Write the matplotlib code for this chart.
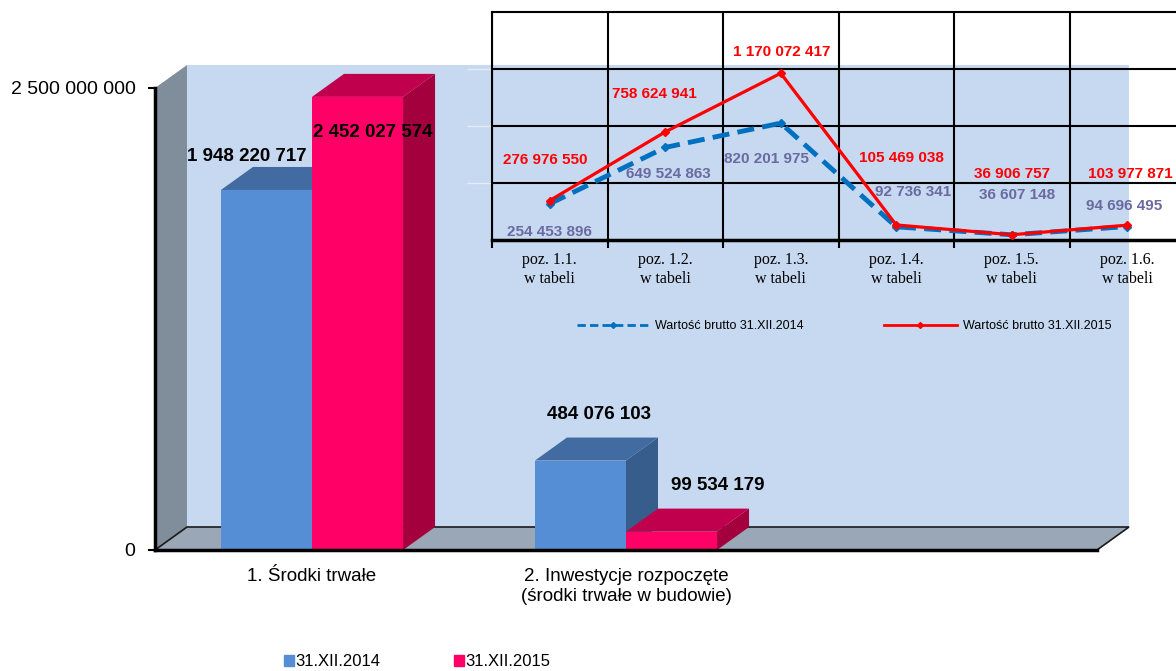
import matplotlib.pyplot as plt
from matplotlib.patches import Polygon, Rectangle, Patch
from matplotlib.lines import Line2D

plt.rcParams['font.family'] = ['Liberation Sans', 'DejaVu Sans']
NARROW = ['Liberation Sans Narrow', 'Liberation Sans', 'DejaVu Sans']

# main 3D bar chart
groups = ['1. Środki trwałe', '2. Inwestycje rozpoczęte\n(środki trwałe w budowie)']
bars_2014 = [1948220717, 484076103]
bars_2015 = [2452027574, 99534179]
bar_series = ['31.XII.2014', '31.XII.2015']
y_ticks = [0, 2500000000]

# inset line chart
positions = ['poz. 1.1.\nw tabeli', 'poz. 1.2.\nw tabeli', 'poz. 1.3.\nw tabeli',
             'poz. 1.4.\nw tabeli', 'poz. 1.5.\nw tabeli', 'poz. 1.6.\nw tabeli']
brutto_2014 = [254453896, 649524863, 820201975, 92736341, 36607148, 94696495]
brutto_2015 = [276976550, 758624941, 1170072417, 105469038, 36906757, 103977871]
line_series = ['Wartość brutto 31.XII.2014', 'Wartość brutto 31.XII.2015']


def fmt(v):
    return f"{v:,}".replace(",", " ")


W, H = 1176, 671
fig = plt.figure(figsize=(W / 100, H / 100), dpi=100)
fig.patch.set_facecolor('white')

ax = fig.add_axes([155 / W, 121 / H, 942 / W, 462 / H])
ax.set_xlim(-0.5, 2.5)
ax.set_ylim(0, 2.5e9)
ax.patch.set_alpha(0)

ddx = 32 / 314                # depth in x units
ddy = 23 / 462 * 2.5e9        # depth in value units
w = 0.29
x0, x1 = ax.get_xlim()
ytop = ax.get_ylim()[1]

# walls and floor
ax.add_patch(Polygon([(x0, 0), (x0 + ddx, ddy), (x0 + ddx, ytop + ddy), (x0, ytop)],
                     closed=True, fc='#808d9b', ec='none', clip_on=False, zorder=0))
ax.add_patch(Rectangle((x0 + ddx, ddy), x1 - x0, ytop, fc='#c6d9f0', ec='none',
                       clip_on=False, zorder=0))
ax.add_patch(Polygon([(x0, 0), (x1, 0), (x1 + ddx, ddy), (x0 + ddx, ddy)],
                     closed=True, fc='#9aa7b6', ec='#1a1a1a', lw=1.2, clip_on=False, zorder=1))


def bar3d(xl, h, front, top, side):
    ax.add_patch(Polygon([(xl + w, 0), (xl + w + ddx, ddy), (xl + w + ddx, h + ddy), (xl + w, h)],
                         closed=True, fc=side, ec='none', clip_on=False, zorder=2))
    ax.add_patch(Polygon([(xl, h), (xl + w, h), (xl + w + ddx, h + ddy), (xl + ddx, h + ddy)],
                         closed=True, fc=top, ec='none', clip_on=False, zorder=2))
    ax.add_patch(Rectangle((xl, 0), w, h, fc=front, ec='none', clip_on=False, zorder=2))


blue = ('#558ed5', '#416ba1', '#365d8c')
red = ('#ff0066', '#c0004d', '#a3003d')
for g in range(len(groups)):
    bar3d(g - w, bars_2014[g], *blue)
    bar3d(g, bars_2015[g], *red)

# bar value labels (offsets in points)
off_2014 = [(-14, 24), (13, 33)]
off_2015 = [(11, -26), (33, 33)]
for g in range(len(groups)):
    ax.annotate(fmt(bars_2014[g]), xy=(g - w / 2, bars_2014[g]), xytext=off_2014[g],
                textcoords='offset points', ha='center', va='center', fontsize=13.5,
                fontweight='bold', family=NARROW, zorder=5)
    ax.annotate(fmt(bars_2015[g]), xy=(g + w / 2, bars_2015[g]), xytext=off_2015[g],
                textcoords='offset points', ha='center', va='center', fontsize=13.5,
                fontweight='bold', family=NARROW, zorder=5)

for s in ['top', 'right']:
    ax.spines[s].set_visible(False)
ax.spines['left'].set_linewidth(2.5)
ax.spines['bottom'].set_linewidth(2.5)
ax.spines['left'].set_zorder(3)
ax.spines['bottom'].set_zorder(3)
ax.set_yticks(y_ticks)
ax.set_yticklabels([fmt(v) for v in y_ticks])
ax.tick_params(axis='y', length=5, width=1.5, labelsize=14, pad=9)
ax.set_xticks(range(len(groups)))
ax.set_xticklabels(groups, fontsize=13.5, family=NARROW, linespacing=1.2)
ax.tick_params(axis='x', length=0, pad=13)

fig.legend(handles=[Patch(color=blue[0]), Patch(color=red[0])], labels=bar_series,
           loc='center', bbox_to_anchor=(417 / W, 1 - 662 / H), ncol=2, frameon=False,
           handlelength=0.6, handleheight=0.6, handletextpad=0.1, columnspacing=4.4,
           prop={'family': NARROW, 'size': 12})

# inset line chart
ax2 = fig.add_axes([492 / W, (H - 240) / H, 693 / W, 228 / H])
ax2.patch.set_alpha(0)
ax2.set_xlim(-0.5, 5.5)
ax2.set_ylim(0, 1.6e9)
for b in range(7):
    ax2.axvline(b - 0.5, color='black', lw=1.5, zorder=1)
for yv in [4e8, 8e8, 1.2e9]:
    ax2.axhline(yv, color='black', lw=1.5, zorder=1)
for s in ax2.spines.values():
    s.set_linewidth(1.5)
ax2.spines['bottom'].set_linewidth(2.5)
ax2.set_yticks([4e8, 8e8, 1.2e9])
ax2.set_yticklabels([])
ax2.tick_params(axis='y', length=18, width=1, color='#e4ecf6')
xs = list(range(len(positions)))
ax2.set_xticks(xs)
ax2.set_xticklabels(positions, family=['Liberation Serif', 'DejaVu Serif'], fontsize=11.5,
                    linespacing=1.2)
ax2.set_xticks([b - 0.5 for b in range(7)], minor=True)
ax2.tick_params(axis='x', which='major', length=0, pad=9)
ax2.tick_params(axis='x', which='minor', length=6, width=1.5)

ax2.plot(xs, brutto_2014, color='#0070c0', lw=3.5, ls=(0, (3.5, 1.7)), marker='D', ms=4, zorder=3)
ax2.plot(xs, brutto_2015, color='#ff0000', lw=2.3, marker='D', ms=4.5, zorder=4)

off_l14 = [(0, -20), (2, -19), (-10, -26), (12, 25), (4, 29), (-2, 15)]
off_l15 = [(-3, 29), (-8, 27), (1, 15), (4, 48), (0, 44), (2, 37)]
for i in xs:
    ax2.annotate(fmt(brutto_2014[i]), xy=(i, brutto_2014[i]), xytext=off_l14[i],
                 textcoords='offset points', ha='center', va='center', fontsize=11,
                 fontweight='bold', color='#6a6aa0', family=NARROW, annotation_clip=False)
    ax2.annotate(fmt(brutto_2015[i]), xy=(i, brutto_2015[i]), xytext=off_l15[i],
                 textcoords='offset points', ha='center', va='center', fontsize=11,
                 fontweight='bold', color='#ff0000', family=NARROW, annotation_clip=False)

lh = [Line2D([], [], color='#0070c0', lw=2, ls=(0, (3, 1.5)), marker='D', ms=3),
      Line2D([], [], color='#ff0000', lw=2, marker='D', ms=3)]
ax2.legend(handles=lh, labels=line_series, loc='center', bbox_to_anchor=(844 / W, 1 - 326 / H),
           bbox_transform=fig.transFigure, ncol=2, frameon=False, fontsize=9,
           handlelength=5.8, handletextpad=0.5, columnspacing=6.4)

fig.savefig('out.png', dpi=100)
